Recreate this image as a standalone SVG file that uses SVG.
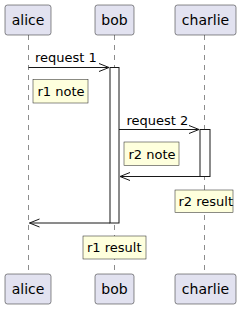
<svg xmlns="http://www.w3.org/2000/svg" width="241" height="309" viewBox="0 0 241 309">
<style>
.part{fill:#E2E2F0;stroke:#181818;stroke-width:0.5}
.ptxt{font-family:"DejaVu Sans",sans-serif;font-size:14px;fill:#000}
.life{stroke:#181818;stroke-width:0.5;stroke-dasharray:5,5;fill:none}
.act{fill:#FFFFFF;stroke:#181818;stroke-width:1}
.msg{stroke:#181818;stroke-width:1;fill:none}
.mtxt{font-family:"DejaVu Sans",sans-serif;font-size:13px;fill:#000}
.note{fill:#FEFFDD;stroke:#181818;stroke-width:0.5}
</style>
<rect width="241" height="309" fill="#FFFFFF"/>
<g id="lifelines">
<line class="life" x1="28.5" y1="35" x2="28.5" y2="274"/>
<line class="life" x1="114.5" y1="35" x2="114.5" y2="274"/>
<line class="life" x1="204.5" y1="35" x2="204.5" y2="274"/>
</g>
<g id="activations">
<rect class="act" x="110" y="67.5" width="9" height="155.5"/>
<rect class="act" x="200" y="129.5" width="10" height="47"/>
</g>
<g id="alice">
<rect class="part" x="5" y="5" width="46" height="30" rx="2.5"/>
<text class="ptxt" x="28" y="25" text-anchor="middle">alice</text>
<rect class="part" x="5" y="274" width="46" height="30" rx="2.5"/>
<text class="ptxt" x="28" y="294" text-anchor="middle">alice</text>
</g>
<g id="bob">
<rect class="part" x="95" y="5" width="39" height="30" rx="2.5"/>
<text class="ptxt" x="114.5" y="25" text-anchor="middle">bob</text>
<rect class="part" x="95" y="274" width="39" height="30" rx="2.5"/>
<text class="ptxt" x="114.5" y="294" text-anchor="middle">bob</text>
</g>
<g id="charlie">
<rect class="part" x="175" y="5" width="61" height="30" rx="2.5"/>
<text class="ptxt" x="205.5" y="25" text-anchor="middle">charlie</text>
<rect class="part" x="175" y="274" width="61" height="30" rx="2.5"/>
<text class="ptxt" x="205.5" y="294" text-anchor="middle">charlie</text>
</g>
<g id="connectors">
<line class="msg" x1="28.5" y1="67.5" x2="109" y2="67.5"/>
<polyline class="msg" points="99,63.5 109,67.5 99,71.5"/>
<text class="mtxt" x="35" y="62">request 1</text>
<line class="msg" x1="119" y1="129.5" x2="199" y2="129.5"/>
<polyline class="msg" points="189,125.5 199,129.5 189,133.5"/>
<text class="mtxt" x="126.5" y="125">request 2</text>
<line class="msg" x1="120" y1="176.5" x2="200" y2="176.5"/>
<polyline class="msg" points="130,172.5 120,176.5 130,180.5"/>
<line class="msg" x1="29.5" y1="223" x2="110" y2="223"/>
<polyline class="msg" points="39.5,219 29.5,223 39.5,227"/>
</g>
<g id="r1note">
<rect class="note" x="33" y="79.5" width="55" height="23.5"/>
<text class="mtxt" x="37.5" y="96">r1 note</text>
</g>
<g id="r2note">
<rect class="note" x="124" y="142" width="55" height="23.5"/>
<text class="mtxt" x="128.5" y="158.5">r2 note</text>
</g>
<g id="r2result">
<rect class="note" x="175" y="190" width="58" height="22.5"/>
<text class="mtxt" x="178.5" y="206">r2 result</text>
</g>
<g id="r1result">
<rect class="note" x="83" y="236" width="63" height="23"/>
<text class="mtxt" x="87" y="252">r1 result</text>
</g>
</svg>
